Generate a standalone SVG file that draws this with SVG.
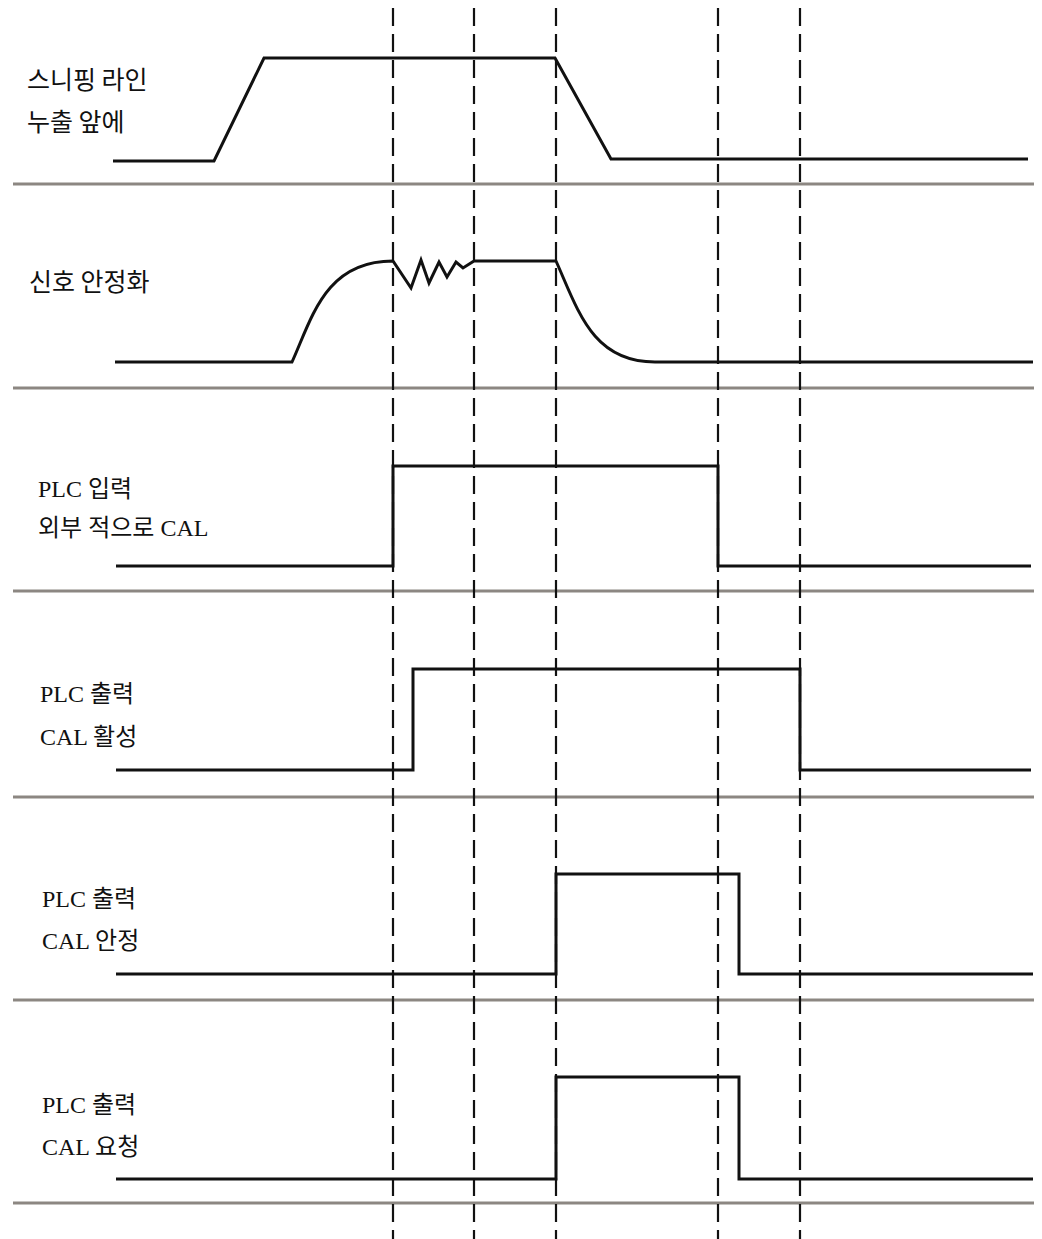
<svg xmlns="http://www.w3.org/2000/svg" width="1042" height="1239" viewBox="0 0 1042 1239">
<style>
.sig{fill:none;stroke:#111;stroke-width:3;stroke-linejoin:miter}
.sep{stroke:#8c8782;stroke-width:3}
.dash{stroke:#111;stroke-width:2.2;stroke-dasharray:18 8}
.ko{font-family:"Noto Sans CJK KR","Noto Sans",sans-serif;font-size:25px;fill:#111}
.mx{font-family:"Liberation Serif","Noto Sans CJK KR",serif;font-size:24px;fill:#111}
</style>
<rect width="1042" height="1239" fill="#fff"/>
<g id="separators">
<line class="sep" x1="13" y1="184" x2="1034" y2="184"/>
<line class="sep" x1="13" y1="388" x2="1034" y2="388"/>
<line class="sep" x1="13" y1="591" x2="1034" y2="591"/>
<line class="sep" x1="13" y1="797" x2="1034" y2="797"/>
<line class="sep" x1="13" y1="1000" x2="1034" y2="1000"/>
<line class="sep" x1="13" y1="1203" x2="1034" y2="1203"/>
</g>
<g id="connectors">
<line class="dash" x1="393" y1="8" x2="393" y2="1239"/>
<line class="dash" x1="474" y1="8" x2="474" y2="1239"/>
<line class="dash" x1="556" y1="8" x2="556" y2="1239"/>
<line class="dash" x1="718" y1="8" x2="718" y2="1239"/>
<line class="dash" x1="800" y1="8" x2="800" y2="1239"/>
</g>
<g id="sig1">
<path class="sig" d="M113,161 L214,161 L264,58 L555,58 L611,159 L1028,159"/>
<text class="ko" x="27" y="89">스니핑 라인</text>
<text class="ko" x="27" y="131">누출 앞에</text>
</g>
<g id="sig2">
<path class="sig" d="M115,362 L292,362 C312,318 325,261 393,261 L411,288 L421,260 L429,283 L439,262 L447,277 L456,262 L463,268 L474,261 L556,261 C578,310 592,362 655,362 L1033,362"/>
<text class="ko" x="29" y="291">신호 안정화</text>
</g>
<g id="sig3">
<path class="sig" d="M116,566 L393,566 L393,466 L718,466 L718,566 L1031,566"/>
<text class="mx" x="38" y="497">PLC 입력</text>
<text class="mx" x="38" y="536">외부 적으로 CAL</text>
</g>
<g id="sig4">
<path class="sig" d="M116,770 L413,770 L413,669 L800,669 L800,770 L1031,770"/>
<text class="mx" x="40" y="702">PLC 출력</text>
<text class="mx" x="40" y="745">CAL 활성</text>
</g>
<g id="sig5">
<path class="sig" d="M116,974 L556,974 L556,874 L739,874 L739,974 L1033,974"/>
<text class="mx" x="42" y="907">PLC 출력</text>
<text class="mx" x="42" y="949">CAL 안정</text>
</g>
<g id="sig6">
<path class="sig" d="M116,1179 L556,1179 L556,1077 L739,1077 L739,1179 L1033,1179"/>
<text class="mx" x="42" y="1113">PLC 출력</text>
<text class="mx" x="42" y="1155">CAL 요청</text>
</g>
</svg>
